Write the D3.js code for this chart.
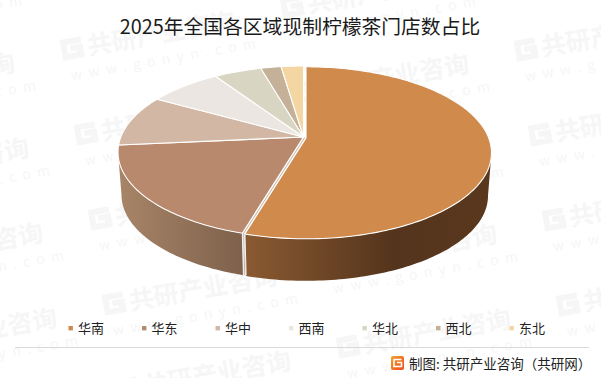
<!DOCTYPE html>
<html>
<head>
<meta charset="utf-8">
<script src="https://cdn.jsdelivr.net/npm/d3@7"></script>
<style>
html, body { margin: 0; padding: 0; background: #fff; }
svg { display: block; }
text { font-family: "Noto Sans CJK SC", "Noto Sans", sans-serif; }
</style>
</head>
<body>
<div id="div_chart"></div>
<script>
// Chart data
var titleText = "2025年全国各区域现制柠檬茶门店数占比";
var sourceText = "制图: 共研产业咨询（共研网）";
var categories = ["华南", "华东", "华中", "西南", "华北", "西北", "东北"];
var shares = [54.5, 19.0, 9.7, 7.5, 4.9, 2.1, 2.3];
var sliceColors = ["#cf8a4c", "#b8896c", "#d2b7a5", "#ebe6e1", "#d9d5c3", "#c4b197", "#f4d6a2"];

// Basic size information
var svgWidth = 601;
var svgHeight = 378;
var topRim = {cx: 303.5, cy: 152, rx: 185.5, ry: 86};
var baseRim = {cx: 303.5, cy: 195, rx: 182, ry: 85};
var tilt = -0.174;                 // where the pie centre lands inside the ellipse
var explodeDx = 2.5, explodeDy = 0.8;
var wallFrom = 100 * Math.PI / 180, wallTo = 260 * Math.PI / 180;

var svg = d3.select("#div_chart")
    .append("svg")
        .attr("width", svgWidth)
        .attr("height", svgHeight);

// Watermark lattice, drawn first so everything sits on top of it
var marks = svg.append("g").attr("class", "watermarks");
d3.range(-2, 4).forEach(function (j) {
    d3.range(-2, 6).forEach(function (i) {
        var mx = 72 + j * 220 + i * 14;
        var my = 47 - j * 42 + i * 85;
        if (mx < -170 || mx > svgWidth + 5 || my < -30 || my > svgHeight + 25) return;
        var g = marks.append("g")
            .attr("transform", "translate(" + mx + "," + my + ") rotate(-10)")
            .attr("fill", "#f6f6f6");
        g.append("path")
            .attr("d", "M-10,-8 H9 V-4 H-6 V7 H5 V3 H-1 V-1 H10 V11 H-10 Z")
            .attr("stroke", "#f6f6f6").attr("stroke-width", 2).attr("stroke-linejoin", "round");
        g.append("text")
            .attr("x", 15).attr("y", 11)
            .style("font-size", "25px").style("font-weight", 700)
            .text("共研产业咨询");
        g.append("text")
            .attr("x", -6).attr("y", 33)
            .style("font-size", "14px").style("letter-spacing", "6.5px")
            .text("www.gonyn.com");
    });
});

// Project a pie angle (clockwise from 12 o'clock) and radius onto the tilted disc
function project(e, a, r) {
    var X = Math.sin(a) * r, Y = -Math.cos(a) * r;
    var d = 1 + tilt * Y;
    return [
        e.cx + e.rx * X * Math.sqrt(1 - tilt * tilt) / d,
        e.cy + e.ry * (Y + tilt) / d
    ];
}

function rim(e, a0, a1) {
    var n = Math.max(2, Math.ceil((a1 - a0) / 0.02));
    return d3.range(n + 1).map(function (k) {
        return project(e, a0 + (a1 - a0) * k / n, 1);
    });
}

var pie = d3.pie().sort(null).value(function (d) { return d; });
var arcs = pie(shares);
var line = d3.line();
var defs = svg.append("defs");

function addGradient(id, x1, x2, stops) {
    var gr = defs.append("linearGradient")
        .attr("id", id)
        .attr("gradientUnits", "userSpaceOnUse")
        .attr("x1", x1).attr("x2", x2).attr("y1", 0).attr("y2", 0);
    stops.forEach(function (s) {
        gr.append("stop").attr("offset", s[0]).attr("stop-color", s[1]);
    });
}
addGradient("wall0", 243, 491, [[0, "#8a5a32"], [0.6, "#54341c"], [1, "#5a381e"]]);
addGradient("wall1", 118, 240, [[0, "#a88568"], [1, "#7f624c"]]);

var pieG = svg.append("g").attr("class", "pie");
var shift = "translate(" + explodeDx + "," + explodeDy + ")";

// Side walls: only the two front slices show one
arcs.slice(0, 2).forEach(function (d, i) {
    var a0 = Math.max(d.startAngle, wallFrom), a1 = Math.min(d.endAngle, wallTo);
    var pts = rim(topRim, a0, a1).concat(rim(baseRim, a0, a1).reverse());
    pieG.append("path")
        .attr("d", line(pts) + "Z")
        .attr("fill", "url(#wall" + i + ")")
        .attr("transform", i === 0 ? shift : null);
});

// Cut edges on the walls at the gap
var cutTop = project(topRim, arcs[0].endAngle, 1);
var cutBase = project(baseRim, arcs[0].endAngle, 1);
[[0, "#f4f1ee", 1.1], [1.3, "#b5aaa0", 0.9], [2.6, "#f4f1ee", 1.1]].forEach(function (s) {
    pieG.append("line")
        .attr("x1", cutTop[0] + s[0]).attr("y1", cutTop[1])
        .attr("x2", cutBase[0] + s[0]).attr("y2", cutBase[1])
        .attr("stroke", s[1]).attr("stroke-width", s[2]);
});

// Top faces
pieG.selectAll("path.face")
    .data(arcs)
    .join("path")
        .attr("class", "face")
        .attr("d", function (d) {
            return line([project(topRim, 0, 0)].concat(rim(topRim, d.startAngle, d.endAngle))) + "Z";
        })
        .attr("fill", function (d, i) { return sliceColors[i]; })
        .attr("stroke", "#fff")
        .attr("stroke-width", 1.1)
        .attr("stroke-linejoin", "round")
        .attr("transform", function (d, i) { return i === 0 ? shift : null; });

// Thin shaded strip inside the gap on the top face
var apex = project(topRim, 0, 0);
pieG.append("line")
    .attr("x1", apex[0] + explodeDx / 2).attr("y1", apex[1] + explodeDy / 2)
    .attr("x2", cutTop[0] + explodeDx / 2).attr("y2", cutTop[1] + explodeDy / 2)
    .attr("stroke", "#a98f7b").attr("stroke-width", 0.7);

// Title
svg.append("text")
    .attr("x", 300).attr("y", 34)
    .attr("text-anchor", "middle")
    .attr("fill", "#1a1a1a")
    .style("font-size", "19.8px")
    .text(titleText);

// Legend
var legendX = d3.scalePoint().domain(categories).range([70.5, 511.5]);
var legend = svg.selectAll("g.legend")
    .data(categories)
    .join("g")
        .attr("class", "legend")
        .attr("transform", function (d) { return "translate(" + legendX(d) + ",328)"; });
legend.append("rect")
    .attr("x", -2).attr("y", -2)
    .attr("width", 4.4).attr("height", 4.4)
    .attr("fill", function (d, i) { return sliceColors[i]; });
legend.append("text")
    .attr("x", 7.5).attr("y", 5)
    .attr("fill", "#222")
    .style("font-size", "13px")
    .text(function (d) { return d; });

// Footer rule, logo and source
svg.append("line")
    .attr("x1", 15).attr("x2", 589)
    .attr("y1", 347.5).attr("y2", 347.5)
    .attr("stroke", "#d9d9d9");

var logoGrad = defs.append("linearGradient").attr("id", "logoGrad")
    .attr("x1", 0).attr("x2", 1).attr("y1", 0).attr("y2", 1);
logoGrad.append("stop").attr("offset", 0).attr("stop-color", "#f6a02a");
logoGrad.append("stop").attr("offset", 1).attr("stop-color", "#ee4a1c");
svg.append("rect")
    .attr("x", 391).attr("y", 356).attr("width", 13).attr("height", 14).attr("rx", 2)
    .attr("fill", "url(#logoGrad)");
svg.append("path")
    .attr("d", "M393.5,359.5 H401.5 M397,362.5 H401.5 V366.5 H394 V359.5")
    .attr("fill", "none").attr("stroke", "#fff").attr("stroke-width", 1.6);
svg.append("text")
    .attr("x", 409).attr("y", 369)
    .attr("fill", "#222")
    .style("font-size", "13.5px")
    .text(sourceText);
</script>
</body>
</html>
